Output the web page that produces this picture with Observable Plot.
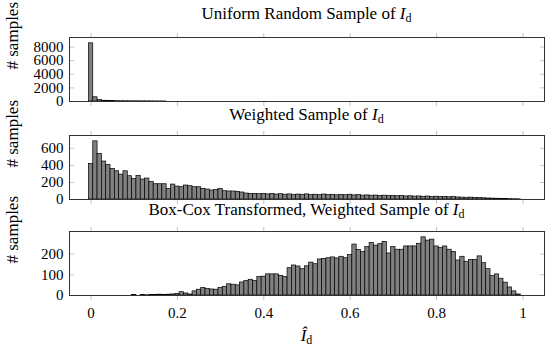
<!DOCTYPE html>
<html><head><meta charset="utf-8">
<script src="https://cdn.jsdelivr.net/npm/d3@7"></script>
<script src="https://cdn.jsdelivr.net/npm/@observablehq/plot@0.6"></script>
<style>
body{margin:0;background:#fff;font-family:"Liberation Serif",serif;}
#wrap{position:relative;width:550px;height:348px;overflow:hidden;background:#fff;}
.t{position:absolute;left:69px;width:475px;text-align:center;font-size:17px;line-height:17px;white-space:nowrap;color:#000;z-index:2;}
.t .sub{font-size:12px;position:relative;top:3px;font-style:normal;}
.p{position:absolute;left:0;z-index:1;}
</style></head><body><div id="wrap"></div>
<script>
// bin centres (width 0.01)
const binCenters = [0,0.01,0.02,0.03,0.04,0.05,0.06,0.07,0.08,0.09,
0.10,0.11,0.12,0.13,0.14,0.15,0.16,0.17,0.18,0.19,
0.20,0.21,0.22,0.23,0.24,0.25,0.26,0.27,0.28,0.29,
0.30,0.31,0.32,0.33,0.34,0.35,0.36,0.37,0.38,0.39,
0.40,0.41,0.42,0.43,0.44,0.45,0.46,0.47,0.48,0.49,
0.50,0.51,0.52,0.53,0.54,0.55,0.56,0.57,0.58,0.59,
0.60,0.61,0.62,0.63,0.64,0.65,0.66,0.67,0.68,0.69,
0.70,0.71,0.72,0.73,0.74,0.75,0.76,0.77,0.78,0.79,
0.80,0.81,0.82,0.83,0.84,0.85,0.86,0.87,0.88,0.89,
0.90,0.91,0.92,0.93,0.94,0.95,0.96,0.97,0.98,0.99];
const binWidth = 0.01;

const uniformCounts = [8550,620,200,110,70,55,45,40,35,30,
28,25,22,20,16,12,8,5,0,0,
0,0,0,0,0,0,0,0,0,0,
0,0,0,0,0,0,0,0,0,0,
0,0,0,0,0,0,0,0,0,0,
0,0,0,0,0,0,0,0,0,0,
0,0,0,0,0,0,0,0,0,0,
0,0,0,0,0,0,0,0,0,0,
0,0,0,0,0,0,0,0,0,0,
0,0,0,0,0,0,0,0,0,0];

const weightedCounts = [417,682,534,445,405,359,331,292,331,273,
242,277,234,246,207,179,179,179,125,175,
152,144,164,156,144,144,125,117,105,113,
125,97,94,94,90,82,70,66,66,62,
66,60,64,58,62,56,60,54,58,55,
60,52,56,50,58,52,55,49,54,50,
56,48,52,45,48,44,46,42,45,40,
43,38,42,36,38,34,36,32,35,30,
33,28,30,26,28,24,22,20,22,18,
17,14,12,10,9,7,6,4,3,2];

const boxcoxCounts = [0,0,0,0,0,0,0,0,0,0,
2,0,3,1,3,2,4,3,4,5,
8,16,10,5,20,28,36,31,29,28,
36,42,54,52,49,63,70,76,70,89,
91,102,102,102,95,89,132,145,140,127,
141,159,151,174,177,180,184,179,187,180,
195,246,220,210,234,254,241,248,259,203,
234,221,221,237,237,237,250,281,265,270,
237,229,237,221,210,169,187,163,172,172,
189,156,127,94,102,81,62,39,20,5];

const xTicks = [0,0.2,0.4,0.6,0.8,1];
const yTicksUniform = [0,2000,4000,6000,8000];
const yTicksWeighted = [0,200,400,600];
const yTicksBoxcox = [0,100,200];
const yLabel = "# samples";
const titles = [
  ["Uniform Random Sample of ", "I", "d"],
  ["Weighted Sample of ", "I", "d"],
  ["Box-Cox Transformed, Weighted Sample of ", "I", "d"]
];
const xLabel = ["Î", "d"];
const FONT = "'Liberation Serif', serif";

const wrap = document.getElementById("wrap");

function panel(counts, yTicks, showX, top) {
  const data = binCenters.map((c, i) => ({x: c, n: counts[i]})).filter(d => d.n > 0);
  const ymax = d3.max(counts) * 1.1;
  const tickColor = "#c4c4c4";
  const chart = Plot.plot({
    width: 550,
    height: showX ? 102 : 80,
    marginLeft: 69, marginRight: 6, marginTop: 8, marginBottom: showX ? 30 : 8,
    style: "background: none; overflow: visible; color: #000; font-size: 15px; font-family: 'Liberation Serif', serif;",
    x: {domain: [-0.05, 1.05]},
    y: {domain: [0, ymax]},
    marks: [
      Plot.rectY(data, {x1: d => d.x - binWidth / 2, x2: d => d.x + binWidth / 2, y: "n", fill: "#808080", stroke: "#000", strokeWidth: 0.7}),
      Plot.axisX(xTicks, {anchor: "top", tickSize: 5, tickFormat: () => "", stroke: tickColor, label: null}),
      Plot.axisX(xTicks, {anchor: "bottom", tickSize: 5, tickPadding: 7, tickFormat: showX ? (d => String(d)) : (() => ""), stroke: tickColor, fill: "#000", fontSize: 15, fontFamily: FONT, label: null}),
      Plot.axisY(yTicks, {anchor: "left", tickSize: 5, dx: 5, tickFormat: () => "", stroke: tickColor, label: null}),
      Plot.axisY(yTicks, {anchor: "right", tickSize: 5, dx: -5, tickFormat: () => "", stroke: tickColor, label: null}),
      Plot.axisY(yTicks, {anchor: "left", tickSize: 0, tickPadding: 6, tickFormat: d => String(d), fill: "#000", fontSize: 15, fontFamily: FONT, label: null}),
      Plot.text([yLabel], {frameAnchor: "left", dx: -57, rotate: -90, fontSize: 17, fontFamily: FONT, fill: "#000"}),
      Plot.frame({stroke: "#333", strokeWidth: 1})
    ]
  });
  chart.classList.add("p");
  chart.style.top = top + "px";
  wrap.appendChild(chart);
}

function title(parts, topPx) {
  const div = document.createElement("div");
  div.className = "t";
  div.style.top = topPx + "px";
  if (parts.length === 3) {
    div.appendChild(document.createTextNode(parts[0]));
    const i = document.createElement("i"); i.textContent = parts[1]; div.appendChild(i);
    const s = document.createElement("span"); s.className = "sub"; s.textContent = parts[2]; div.appendChild(s);
  } else {
    const i = document.createElement("i"); i.textContent = parts[0]; div.appendChild(i);
    const s = document.createElement("span"); s.className = "sub"; s.textContent = parts[1]; div.appendChild(s);
  }
  wrap.appendChild(div);
}

panel(uniformCounts, yTicksUniform, false, 29);
panel(weightedCounts, yTicksWeighted, false, 127);
panel(boxcoxCounts, yTicksBoxcox, true, 223);
title(titles[0], 5);
title(titles[1], 106);
title(titles[2], 201);
title(xLabel, 327);
</script></body></html>
